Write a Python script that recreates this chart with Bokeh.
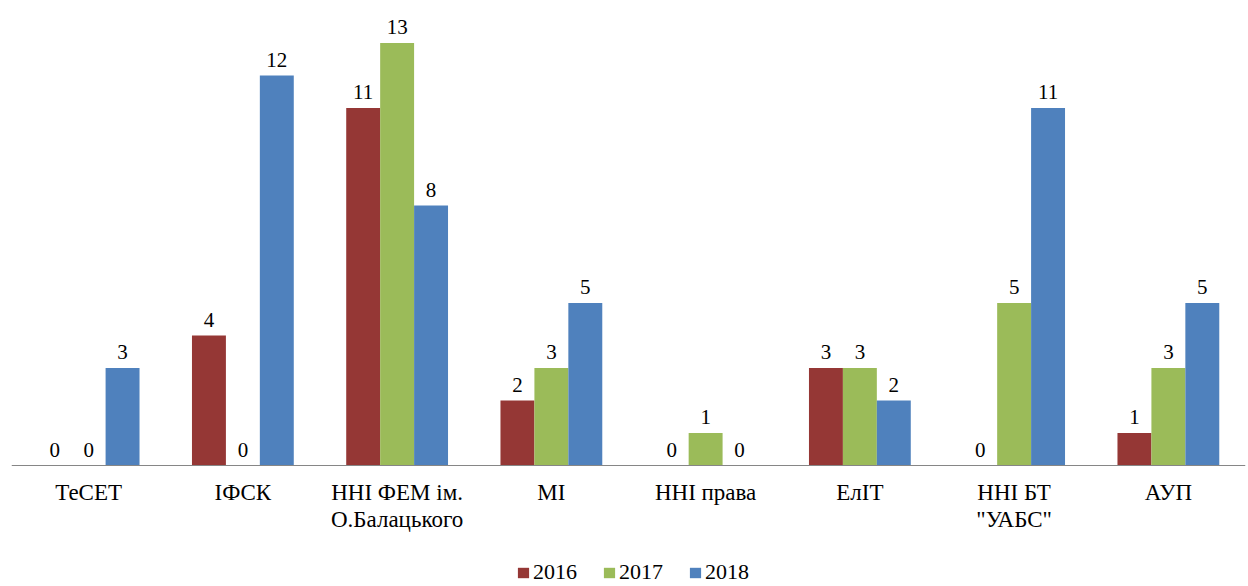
from bokeh.plotting import figure
from bokeh.models import ColumnDataSource, Legend, LegendItem, Range1d, Span
from bokeh.transform import dodge
from bokeh.core.properties import value
from bokeh.embed import file_html
from bokeh.resources import INLINE

categories = ["ТеСЕТ", "ІФСК", "ННІ ФЕМ ім.\nО.Балацького", "МІ", "ННІ права",
              "ЕлІТ", "ННІ БТ\n\"УАБС\"", "АУП"]
years = ["2016", "2017", "2018"]
v2016 = [0, 4, 11, 2, 0, 3, 0, 1]
v2017 = [0, 0, 13, 3, 1, 3, 5, 3]
v2018 = [3, 12, 8, 5, 0, 2, 11, 5]
colors = ["#953735", "#9BBB59", "#4F81BD"]

FONT = "Liberation Serif"
idx = list(range(len(categories)))

H = 586
p = figure(width=1248, height=H, output_backend="svg", toolbar_location=None,
           x_range=Range1d(-0.5, 7.5), y_range=Range1d(-(H - 465) / 32.5, 465 / 32.5),
           x_axis_type=None, y_axis_type=None,
           min_border_left=11, min_border_right=3,
           min_border_top=0, min_border_bottom=0)
p.outline_line_color = None
p.xgrid.visible = False
p.ygrid.visible = False
p.background_fill_color = "white"
p.border_fill_color = "white"

bw = 0.22
offsets = [-bw, 0.0, bw]
series = [v2016, v2017, v2018]
renderers = []
for yr, vals, col, off in zip(years, series, colors, offsets):
    src = ColumnDataSource(dict(x=idx, top=vals, lbl=[str(v) for v in vals]))
    r = p.vbar(x=dodge("x", off), top="top", bottom=0, width=bw, source=src,
               fill_color=col, line_color=None)
    renderers.append((yr, r))
    p.text(x=dodge("x", off), y="top", text="lbl", source=src,
           text_align="center", text_baseline="alphabetic", y_offset=-16,
           text_font=value(FONT), text_font_size="21px", text_color="#000000")

p.add_layout(Span(location=0, dimension="width", line_color="#868686", line_width=1))
cat_src = ColumnDataSource(dict(x=idx, y=[0] * len(idx), name=categories))
p.text(x="x", y="y", text="name", source=cat_src, text_align="center",
       text_baseline="top", y_offset=14, text_line_height=1.1,
       text_font=value(FONT), text_font_size="23px", text_color="#000000")

legend = Legend(items=[LegendItem(label=yr, renderers=[r]) for yr, r in renderers],
                orientation="horizontal", location=(505, 1),
                glyph_width=14, glyph_height=13, label_standoff=3, spacing=25,
                padding=0, margin=0,
                label_text_font=FONT, label_text_font_size="22px",
                label_text_color="#000000",
                border_line_alpha=0, background_fill_alpha=0)
p.add_layout(legend, "center")

open("out.html", "w").write(file_html(p, INLINE))
